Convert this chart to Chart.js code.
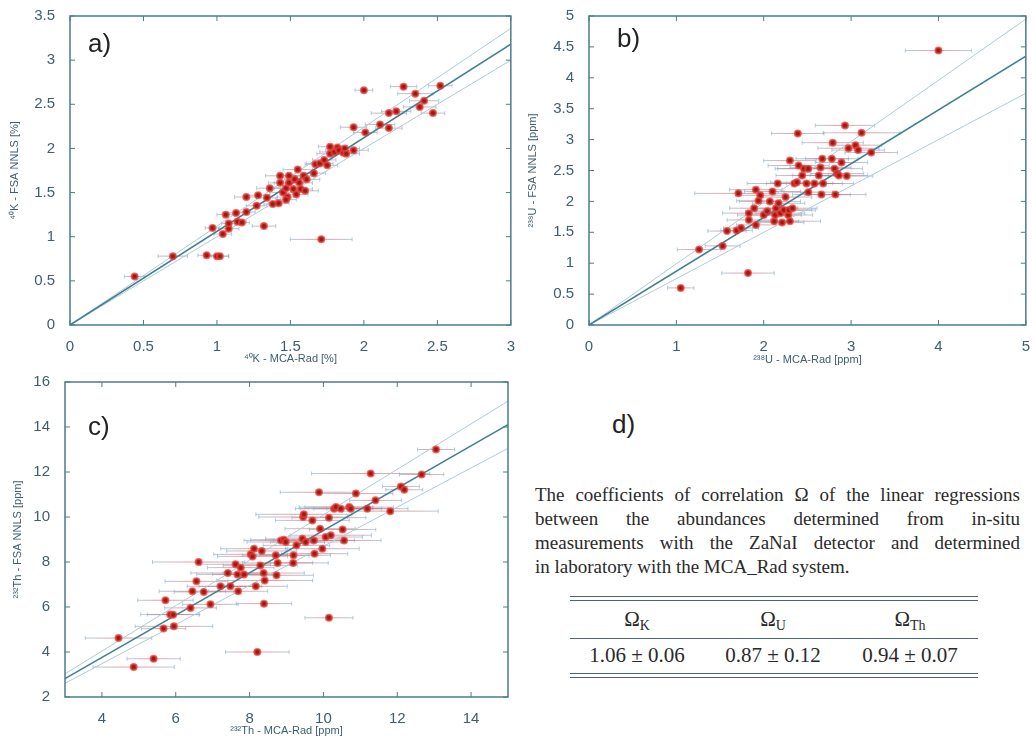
<!DOCTYPE html>
<html>
<head>
<meta charset="utf-8">
<script src="https://cdn.jsdelivr.net/npm/chart.js@4.4.1/dist/chart.umd.min.js"></script>
<style>
  body { margin: 0; background: #fff; }
  #wrap { position: relative; width: 1035px; height: 744px; overflow: hidden; }
  canvas { position: absolute; }
  .tag { position: absolute; font: 26px "Liberation Sans", Arial, sans-serif; line-height: 26px; color: #222; }
  #note { position: absolute; left: 535px; top: 483px; width: 485px; font: 19px "Liberation Serif", serif; line-height: 24px; color: #2a2a2a; }
  #note div { text-align: justify; text-align-last: justify; white-space: nowrap; }
  #note div.last { text-align-last: left; }
  .rule { position: absolute; left: 570px; width: 408px; height: 0; border-top: 1.5px solid #4a6470; }
  .cell { position: absolute; width: 150px; margin-left: -75px; text-align: center; font: 21px "Liberation Serif", serif; line-height: 24px; color: #2a2a2a; }
  .cell sub { font-size: 14px; vertical-align: -4px; }
</style>
</head>
<body>
<div id="wrap">
  <canvas id="chartK" width="520" height="370" style="left:0;top:0"></canvas>
  <canvas id="chartU" width="515" height="370" style="left:520px;top:0"></canvas>
  <canvas id="chartTh" width="530" height="384" style="left:0;top:360px"></canvas>
  <div class="tag" style="left:88px;top:30px">a)</div>
  <div class="tag" style="left:617px;top:25px">b)</div>
  <div class="tag" style="left:88px;top:413px">c)</div>
  <div class="tag" style="left:612px;top:411px">d)</div>
  <div id="note">
    <div>The coefficients of correlation Ω of the linear regressions</div>
    <div>between the abundances determined from in-situ</div>
    <div>measurements with the ZaNaI detector and determined</div>
    <div class="last">in laboratory with the MCA_Rad system.</div>
  </div>
  <div class="rule" style="top:596px"></div>
  <div class="rule" style="top:600px"></div>
  <div class="rule" style="top:638px"></div>
  <div class="rule" style="top:673px"></div>
  <div class="rule" style="top:677px"></div>
  <div id="table"></div>
</div>
<script>
// 40K panel (a)
const kX = [0.44,0.70,0.93,1.00,1.02,0.97,1.04,1.08,1.06,1.08,1.13,1.14,1.17,1.20,1.20,1.27,1.28,1.32,1.34,1.36,1.38,1.42,1.43,1.43,1.45,1.47,1.48,1.49,1.52,1.53,1.54,1.55,1.56,1.57,1.59,1.60,1.49,1.47,1.61,1.66,1.67,1.70,1.71,1.73,1.75,1.77,1.77,1.80,1.82,1.83,1.86,1.87,1.88,1.93,1.93,2.00,2.01,2.11,2.17,2.17,2.22,2.27,2.35,2.38,2.41,2.47,2.52];
const kY = [0.55,0.78,0.79,0.78,0.78,1.10,1.03,1.09,1.25,1.15,1.27,1.17,1.16,1.45,1.28,1.35,1.47,1.12,1.44,1.55,1.37,1.38,1.61,1.69,1.50,1.55,1.45,1.61,1.54,1.65,1.48,1.76,1.61,1.54,1.69,1.52,1.69,1.42,1.65,1.72,1.82,1.83,0.97,1.87,1.81,1.94,2.02,1.96,2.01,1.98,1.95,2.00,1.94,1.98,2.24,2.66,2.18,2.27,2.23,2.40,2.42,2.70,2.62,2.47,2.54,2.40,2.71];
const kXerr = [0.07,0.10,0.06,0.08,0.06,0.05,0.06,0.07,0.06,0.05,0.07,0.06,0.05,0.08,0.06,0.07,0.08,0.08,0.07,0.09,0.06,0.07,0.08,0.10,0.09,0.08,0.07,0.10,0.09,0.07,0.08,0.10,0.09,0.08,0.07,0.09,0.08,0.07,0.09,0.08,0.07,0.09,0.21,0.08,0.07,0.09,0.08,0.10,0.07,0.09,0.08,0.10,0.09,0.10,0.09,0.06,0.08,0.10,0.09,0.12,0.10,0.09,0.12,0.11,0.10,0.08,0.08];

// 238U panel (b)
const uX = [1.05,1.26,1.53,1.58,1.69,1.74,1.82,1.71,1.83,1.83,1.89,1.91,1.91,1.94,1.96,2.00,2.04,2.07,2.10,2.12,2.13,2.14,2.16,2.17,2.19,2.21,2.23,2.25,2.28,2.29,2.30,2.30,2.33,2.35,2.38,2.39,2.40,2.44,2.46,2.49,2.51,2.51,2.58,2.63,2.65,2.66,2.67,2.68,2.78,2.79,2.81,2.82,2.84,2.86,2.89,2.93,2.95,2.97,3.05,3.08,3.12,3.23,4.00];
const uY = [0.60,1.22,1.28,1.52,1.53,1.57,0.84,2.13,1.70,1.81,1.89,1.62,2.19,2.01,2.10,1.78,1.84,2.00,2.16,1.68,1.78,1.89,2.29,1.97,1.81,1.66,1.86,2.07,1.78,1.86,1.68,2.66,1.89,2.29,2.31,3.10,2.58,2.42,2.53,2.29,2.15,2.53,2.29,2.42,2.55,2.11,2.69,2.29,2.69,2.95,2.53,2.11,2.45,2.42,2.63,3.23,2.41,2.86,2.91,2.83,3.11,2.79,4.44];
const uXerr = [0.15,0.25,0.20,0.22,0.18,0.20,0.30,0.50,0.25,0.30,0.28,0.22,0.30,0.25,0.28,0.30,0.25,0.35,0.32,0.28,0.30,0.25,0.35,0.30,0.28,0.25,0.32,0.30,0.28,0.30,0.35,0.30,0.28,0.32,0.30,0.30,0.35,0.30,0.33,0.30,0.28,0.35,0.32,0.30,0.35,0.33,0.30,0.35,0.30,0.35,0.32,0.35,0.30,0.33,0.30,0.34,0.30,0.35,0.30,0.30,0.44,0.30,0.38];

// 232Th panel (c)
const thX = [4.45,4.86,5.40,5.67,5.72,5.85,5.93,5.95,6.40,6.45,6.56,6.62,6.76,6.94,7.21,7.41,7.48,7.62,7.67,7.69,7.76,7.85,8.03,8.08,8.12,8.17,8.21,8.29,8.33,8.38,8.39,8.41,8.71,8.73,8.76,8.85,8.93,8.98,9.18,9.19,9.27,9.43,9.45,9.47,9.52,9.70,9.74,9.76,9.88,9.91,9.97,10.06,10.15,10.20,10.15,10.29,10.34,10.47,10.52,10.56,10.70,10.74,10.88,11.19,11.28,11.41,11.81,12.10,12.19,12.66,13.05];
const thY = [4.62,3.33,3.70,5.04,6.30,5.67,5.66,5.14,5.96,6.70,7.14,8.00,6.67,6.12,6.92,7.51,6.92,7.90,7.45,6.70,7.75,7.45,8.34,8.25,8.59,6.92,4.00,7.85,8.49,7.51,6.15,7.18,8.30,7.41,7.96,8.96,8.99,8.89,7.96,8.30,8.74,9.03,10.00,10.12,8.89,9.85,8.96,8.37,11.10,9.48,8.59,9.11,5.52,9.19,9.97,10.37,10.44,10.37,9.44,8.96,10.44,10.37,11.04,10.37,11.93,10.74,10.26,11.36,11.21,11.89,13.00];
const thXerr = [0.90,1.10,0.72,0.60,0.75,0.80,0.70,1.05,0.70,0.90,0.85,1.25,0.80,0.75,0.90,1.00,0.85,0.95,1.10,0.80,0.90,0.85,1.00,0.95,0.90,0.85,0.86,1.00,0.95,1.10,0.75,1.30,0.90,1.00,0.95,1.00,0.90,1.05,0.95,1.00,0.90,1.00,1.20,1.30,0.95,1.00,1.10,0.90,1.05,0.95,1.00,1.00,0.65,1.10,1.00,1.05,1.00,1.10,0.90,1.00,1.20,1.00,1.00,1.10,1.60,0.70,1.30,0.50,0.50,0.60,0.50];

// axis ticks
const kTicksX = [0,0.5,1,1.5,2,2.5,3];
const kTicksY = [0,0.5,1,1.5,2,2.5,3,3.5];
const uTicksX = [0,1,2,3,4,5];
const uTicksY = [0,0.5,1,1.5,2,2.5,3,3.5,4,4.5,5];
const thTicksX = [4,6,8,10,12,14];
const thTicksY = [2,4,6,8,10,12,14,16];

// regression slopes (table d)
const fitNames = ['K','U','Th'];
const fitSlope = [1.06,0.87,0.94];
const fitErr = [0.06,0.12,0.07];

const tickColor = '#3d5f6e';
const frameColor = '#4b7c8c';

const errorBars = {
  id: 'errorBars',
  beforeDatasetsDraw(chart) {
    const {ctx, scales: {x, y}} = chart;
    const ds = chart.data.datasets[0];
    ctx.save();
    ctx.lineWidth = 1;
    ds.data.forEach((p, i) => {
      const x0 = x.getPixelForValue(p.x - ds.xerr[i]);
      const x1 = x.getPixelForValue(p.x + ds.xerr[i]);
      const py = y.getPixelForValue(p.y);
      const g = ctx.createLinearGradient(x0, 0, x1, 0);
      g.addColorStop(0, 'rgba(130,170,200,0.6)');
      g.addColorStop(0.5, 'rgba(225,80,80,0.6)');
      g.addColorStop(1, 'rgba(130,170,200,0.6)');
      ctx.strokeStyle = g;
      ctx.beginPath();
      ctx.moveTo(x0, py); ctx.lineTo(x1, py);
      ctx.moveTo(x0, py - 2); ctx.lineTo(x0, py + 2);
      ctx.moveTo(x1, py - 2); ctx.lineTo(x1, py + 2);
      ctx.stroke();
    });
    ctx.restore();
  }
};

const frame = {
  id: 'frame',
  afterDatasetsDraw(chart) {
    const {ctx, chartArea: a, scales: {x, y}} = chart;
    ctx.save();
    ctx.strokeStyle = frameColor;
    ctx.lineWidth = 1.5;
    ctx.strokeRect(a.left, a.top, a.width, a.height);
    ctx.lineWidth = 1;
    ctx.beginPath();
    x.ticks.forEach(t => {
      const px = x.getPixelForValue(t.value);
      ctx.moveTo(px, a.bottom); ctx.lineTo(px, a.bottom - 5);
      ctx.moveTo(px, a.top); ctx.lineTo(px, a.top + 5);
    });
    y.ticks.forEach(t => {
      const py = y.getPixelForValue(t.value);
      ctx.moveTo(a.left, py); ctx.lineTo(a.left + 5, py);
      ctx.moveTo(a.right, py); ctx.lineTo(a.right - 5, py);
    });
    ctx.stroke();
    ctx.restore();
  }
};

function fitLine(s, xmin, xmax, color, width) {
  return {
    type: 'line',
    data: [{x: xmin, y: s * xmin}, {x: xmax, y: s * xmax}],
    borderColor: color,
    borderWidth: width,
    pointRadius: 0,
    fill: false
  };
}

function makePanel(id, xs, ys, xerr, ticksX, ticksY, i, xTitle, yTitle, box) {
  const xmin = box.xmin, xmax = box.xmax;
  const s = fitSlope[i], e = fitErr[i];
  new Chart(document.getElementById(id), {
    type: 'scatter',
    data: {
      datasets: [
        {
          data: xs.map((v, k) => ({x: v, y: ys[k]})),
          xerr: xerr,
          pointRadius: 3,
          pointBackgroundColor: '#9a1b1b',
          pointBorderColor: 'rgba(232,60,50,0.75)',
          pointBorderWidth: 2
        },
        fitLine(s, xmin, xmax, '#3f7f95', 1.5),
        fitLine(s + e, xmin, xmax, '#abccd8', 1),
        fitLine(s - e, xmin, xmax, '#abccd8', 1)
      ]
    },
    options: {
      responsive: false,
      animation: false,
      layout: { padding: box.pad },
      plugins: { legend: { display: false }, tooltip: { enabled: false } },
      scales: {
        x: {
          type: 'linear', min: xmin, max: xmax,
          afterBuildTicks: sc => { sc.ticks = ticksX.map(v => ({value: v})); },
          afterFit: sc => { sc.height = box.xh; },
          grid: { display: false }, border: { display: false },
          ticks: { color: tickColor, font: { family: 'Liberation Sans', size: 15 }, padding: 5, maxRotation: 0, autoSkip: false, callback: v => String(v) },
          title: { display: true, text: xTitle, color: tickColor, font: { family: 'Liberation Sans', size: 11 }, padding: { top: 0, bottom: box.xt } }
        },
        y: {
          type: 'linear', min: ticksY[0], max: ticksY[ticksY.length - 1],
          afterBuildTicks: sc => { sc.ticks = ticksY.map(v => ({value: v})); },
          afterFit: sc => { sc.width = box.yw; },
          grid: { display: false }, border: { display: false },
          ticks: { color: tickColor, font: { family: 'Liberation Sans', size: 15 }, padding: 7, autoSkip: false, callback: v => String(v) },
          title: { display: true, text: yTitle, color: tickColor, font: { family: 'Liberation Sans', size: 11 }, padding: { top: box.yt, bottom: 0 } }
        }
      }
    },
    plugins: [errorBars, frame]
  });
}

makePanel('chartK', kX, kY, kXerr, kTicksX, kTicksY, 0,
  '⁴⁰K - MCA-Rad [%]', '⁴⁰K - FSA NNLS [%]',
  { xmin: 0, xmax: 3, pad: {left: 0, top: 10, right: 8, bottom: 0}, xh: 45, yw: 70, xt: 4, yt: 8 });
makePanel('chartU', uX, uY, uXerr, uTicksX, uTicksY, 1,
  '²³⁸U - MCA-Rad [ppm]', '²³⁸U - FSA NNLS [ppm]',
  { xmin: 0, xmax: 5, pad: {left: 0, top: 12, right: 7, bottom: 0}, xh: 45, yw: 69, xt: 3, yt: 6 });
makePanel('chartTh', thX, thY, thXerr, thTicksX, thTicksY, 2,
  '²³²Th - MCA-Rad [ppm]', '²³²Th - FSA NNLS [ppm]',
  { xmin: 3, xmax: 15, pad: {left: 0, top: 22, right: 22, bottom: 0}, xh: 47, yw: 65, xt: 6, yt: 11 });

// table of panel d
const colX = [637, 773, 910];
const table = document.getElementById('table');
fitNames.forEach((n, i) => {
  const h = document.createElement('div');
  h.className = 'cell';
  h.style.left = colX[i] + 'px';
  h.style.top = '607px';
  h.innerHTML = 'Ω<sub>' + n + '</sub>';
  table.appendChild(h);
  const v = document.createElement('div');
  v.className = 'cell';
  v.style.left = colX[i] + 'px';
  v.style.top = '643px';
  v.textContent = fitSlope[i].toFixed(2) + ' ± ' + fitErr[i].toFixed(2);
  table.appendChild(v);
});
</script>
</body>
</html>
